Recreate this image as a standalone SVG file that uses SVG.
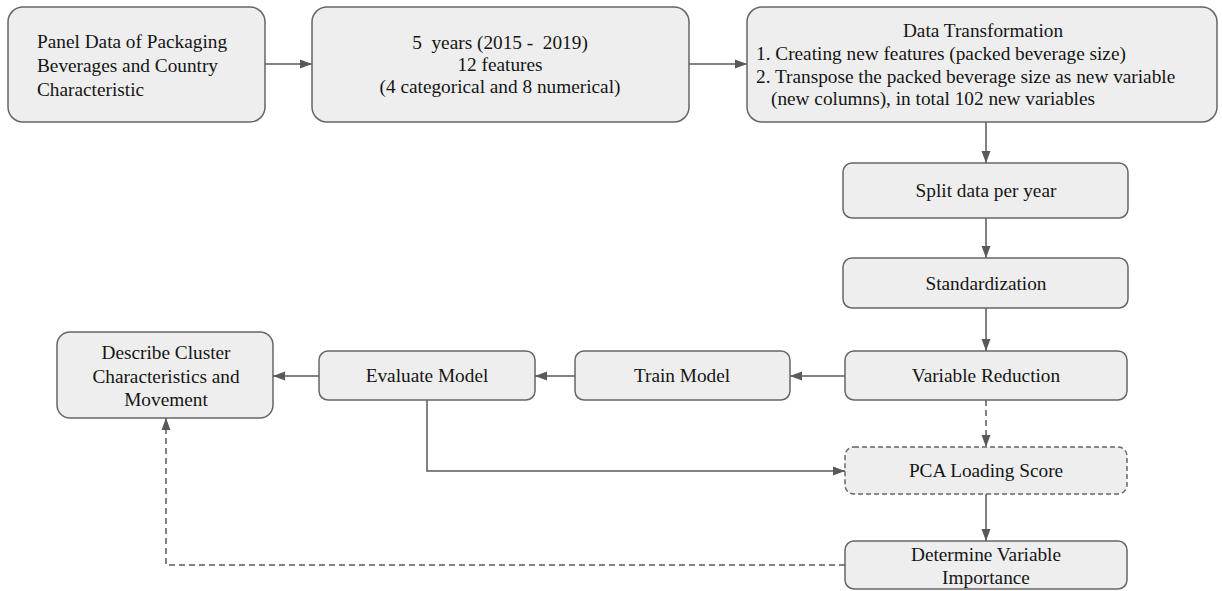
<svg xmlns="http://www.w3.org/2000/svg" width="1222" height="591" viewBox="0 0 1222 591">
<style>
.box{fill:#eeeeee;stroke:#666666;stroke-width:1.5}
.dbox{fill:#eeeeee;stroke:#666666;stroke-width:1.5;stroke-dasharray:5,3}
text{font-family:'Liberation Serif','Times New Roman',serif;font-size:19.3px;fill:#151515}
.c{text-anchor:middle}
.e{fill:none;stroke:#595959;stroke-width:1.5}
.d{stroke-dasharray:6,4}
</style>
<defs>
<marker id="ah" markerUnits="userSpaceOnUse" markerWidth="12" markerHeight="12" viewBox="0 0 12 12" refX="12" refY="6" orient="auto">
<path d="M0,1.5 L12,6 L0,10.5 Z" fill="#595959"/>
</marker>
</defs>
<rect width="1222" height="591" fill="#ffffff"/>
<g id="connectors">
<path class="e" d="M265,64 L312,64" marker-end="url(#ah)"/>
<path class="e" d="M689,64 L747,64" marker-end="url(#ah)"/>
<path class="e" d="M986,122 L986,163" marker-end="url(#ah)"/>
<path class="e" d="M986,218 L986,258" marker-end="url(#ah)"/>
<path class="e" d="M986,308 L986,351" marker-end="url(#ah)"/>
<path class="e" d="M845,376 L790,376" marker-end="url(#ah)"/>
<path class="e" d="M575,376 L535,376" marker-end="url(#ah)"/>
<path class="e" d="M319,376 L273,376" marker-end="url(#ah)"/>
<path class="e d" d="M986,400 L986,447" marker-end="url(#ah)"/>
<path class="e" d="M427,400 L427,471 L845,471" marker-end="url(#ah)"/>
<path class="e" d="M986,494 L986,541" marker-end="url(#ah)"/>
<path class="e d" d="M845,565 L166,565 L166,418" marker-end="url(#ah)"/>
</g>
<g id="n1">
<rect class="box" x="8" y="7" width="257" height="115" rx="15"/>
<text x="37" y="48">Panel Data of Packaging</text>
<text x="37" y="72">Beverages and Country</text>
<text x="37" y="96">Characteristic</text>
</g>
<g id="n2">
<rect class="box" x="312" y="7" width="377" height="115" rx="15"/>
<text class="c" x="500" y="49" xml:space="preserve">5  years (2015 -  2019)</text>
<text class="c" x="500" y="71">12 features</text>
<text class="c" x="500" y="93">(4 categorical and 8 numerical)</text>
</g>
<g id="n3">
<rect class="box" x="747" y="7" width="470" height="115" rx="15"/>
<text class="c" x="983" y="37">Data Transformation</text>
<text x="756" y="60">1. Creating new features (packed beverage size)</text>
<text x="756" y="83">2. Transpose the packed beverage size as new variable</text>
<text x="771" y="105">(new columns), in total 102 new variables</text>
</g>
<g id="n4">
<rect class="box" x="843" y="163" width="285" height="55" rx="9"/>
<text class="c" x="986" y="197">Split data per year</text>
</g>
<g id="n5">
<rect class="box" x="843" y="258" width="285" height="50" rx="9"/>
<text class="c" x="986" y="290">Standardization</text>
</g>
<g id="n6">
<rect class="box" x="845" y="351" width="282" height="49" rx="9"/>
<text class="c" x="986" y="382">Variable Reduction</text>
</g>
<g id="n7">
<rect class="box" x="575" y="351" width="215" height="49" rx="9"/>
<text class="c" x="682" y="382">Train Model</text>
</g>
<g id="n8">
<rect class="box" x="319" y="351" width="216" height="49" rx="9"/>
<text class="c" x="427" y="382">Evaluate Model</text>
</g>
<g id="n9">
<rect class="box" x="57" y="332" width="216" height="86" rx="13"/>
<text class="c" x="166" y="359">Describe Cluster</text>
<text class="c" x="166" y="383">Characteristics and</text>
<text class="c" x="166" y="406">Movement</text>
</g>
<g id="n10">
<rect class="dbox" x="845" y="447" width="282" height="47" rx="9"/>
<text class="c" x="986" y="477">PCA Loading Score</text>
</g>
<g id="n11">
<rect class="box" x="845" y="541" width="282" height="48" rx="9"/>
<text class="c" x="986" y="561">Determine Variable</text>
<text class="c" x="986" y="584">Importance</text>
</g>
</svg>
